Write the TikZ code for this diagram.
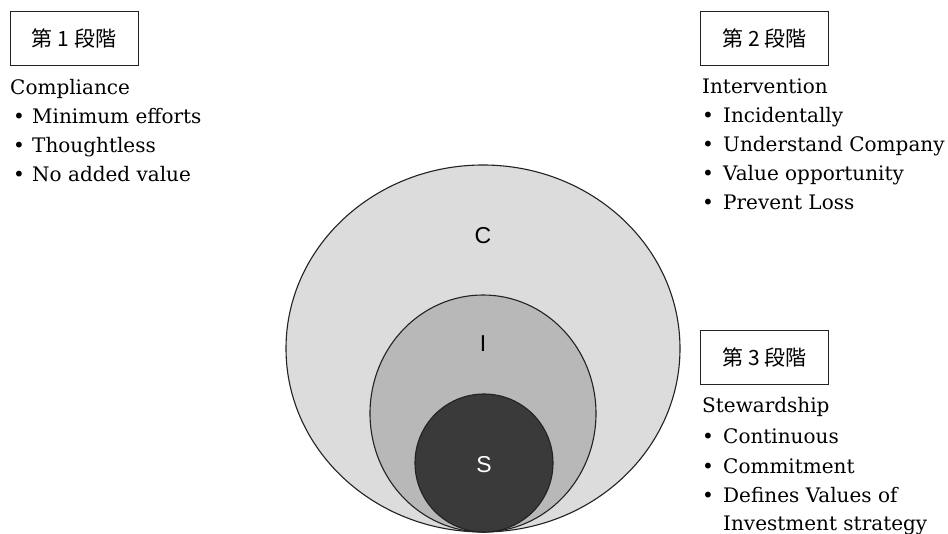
\documentclass[tikz,border=0pt]{standalone}
\usepackage{fontspec}
\setmainfont{DejaVu Serif}
\newfontfamily\cjk{Noto Sans CJK JP}
\newfontfamily\labfont{Liberation Sans}
\usetikzlibrary{shapes.geometric}
\definecolor{outerfill}{HTML}{DCDCDC}
\definecolor{midfill}{HTML}{B8B8B8}
\definecolor{innerfill}{HTML}{3A3A3A}
\definecolor{edge}{HTML}{222222}
\newcommand{\bul}{\makebox[22pt][l]{\hspace{3pt}•}}
\newcommand{\bulr}{\makebox[24pt][l]{\hspace{3pt}•}}
\begin{document}
\begin{tikzpicture}[x=1pt,y=-1pt,
  stagebox/.style={draw=edge,line width=0.9pt,minimum width=128pt,minimum height=54pt,inner sep=0pt,
    font=\cjk\fontsize{21}{24}\selectfont},
  txt/.style={anchor=base west,inner sep=0pt,font=\fontsize{20}{24}\selectfont,text=black},
  ring/.style={draw=edge,line width=1.1pt},
  clab/.style={font=\labfont\fontsize{23}{26}\selectfont,inner sep=0pt}]
\path[use as bounding box,fill=white] (0,0) rectangle (948,534);

% circles
\draw[ring,fill=outerfill] (483,348.5) ellipse [x radius=197, y radius=183.5];
\draw[ring,fill=midfill] (483,413.5) ellipse [x radius=113, y radius=118.5];
\draw[ring,fill=innerfill] (484,463) ellipse [x radius=69, y radius=69];
\node[clab] (lc) at (483,236) {C};
\node[clab] (li) at (483,344) {I};
\node[clab,text=white] (ls) at (484,465) {S};

% stage 1
\node[stagebox] (b1) at (74,38) {第\hspace{5pt}1\hspace{5pt}段階};
\node[txt] (t1) at (10,95) {Compliance};
\node[txt] (t1a) at (10,124) {\bul Minimum efforts};
\node[txt] (t1b) at (10,153) {\bul Thoughtless};
\node[txt] (t1c) at (10,182) {\bul No added value};

% stage 2
\node[stagebox] (b2) at (764.5,38) {第\hspace{5pt}2\hspace{5pt}段階};
\node[txt] (t2) at (702,94) {Intervention};
\node[txt] (t2a) at (699,123) {\bulr Incidentally};
\node[txt] (t2b) at (699,152) {\bulr Understand Company};
\node[txt] (t2c) at (699,181) {\bulr Value opportunity};
\node[txt] (t2d) at (699,210) {\bulr Prevent Loss};

% stage 3
\node[stagebox] (b3) at (764.5,357) {第\hspace{5pt}3\hspace{5pt}段階};
\node[txt] (t3) at (702,413) {Stewardship};
\node[txt] (t3a) at (699,443) {\bulr Continuous};
\node[txt] (t3b) at (699,473) {\bulr Commitment};
\node[txt] (t3c) at (699,502) {\bulr Defines Values of};
\node[txt] (t3d) at (723,530) {Investment strategy};
\end{tikzpicture}
\end{document}
